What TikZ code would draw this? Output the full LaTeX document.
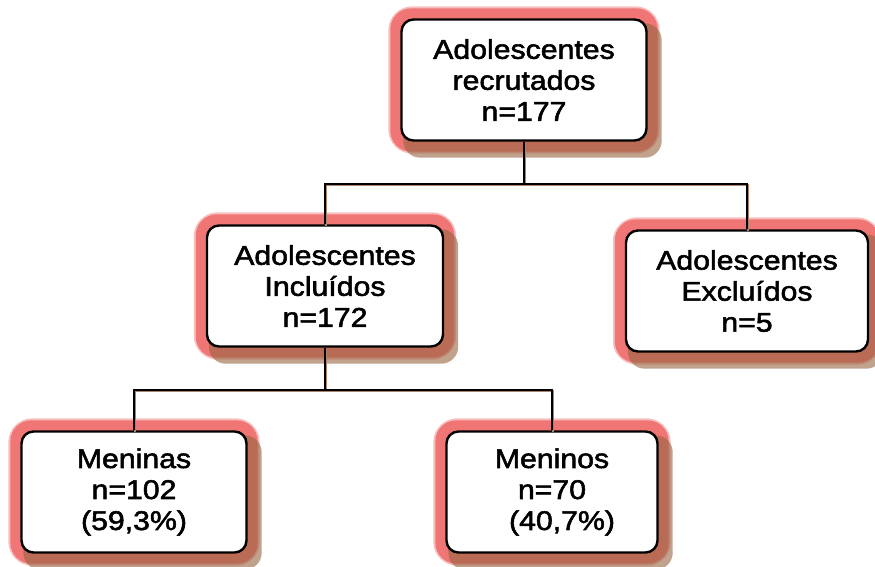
\documentclass[tikz,border=0pt]{standalone}
\usepackage{fontspec}
\setmainfont{Liberation Sans}[FakeStretch=1.12, FakeBold=2]
\usetikzlibrary{backgrounds}
\colorlet{box edge}{black}
\definecolor{box glow}{RGB}{240,118,118}
\definecolor{box halo}{RGB}{248,190,190}
\definecolor{box shadow}{RGB}{150,100,65}
\tikzset{count/.style={draw=box edge, line width=2.4pt, fill=white, rounded corners=12pt,
    align=center, inner sep=0pt, minimum height=121pt, font=\fontsize{27}{31}\selectfont},
    link/.style={draw=black, line width=2pt,
    preaction={draw=box shadow!80, line width=2pt, transform canvas={shift={(1pt,-1.5pt)}}}}}

\begin{document}
\begin{tikzpicture}[x=1pt,y=1pt]
     \useasboundingbox (0,0) rectangle (875,-567);
     \node[count, minimum width=245pt] (rec) at (524,-80) {Adolescentes\\recrutados\\n=177};
     \node[count, minimum width=236pt] (inc) at (325,-286) {Adolescentes\\Incluídos\\n=172};
     \node[count, minimum width=242pt] (exc) at (747,-291) {Adolescentes\\Excluídos\\n=5};
     \node[count, minimum width=225pt] (girls) at (134,-492) {Meninas\\n=102\\(59,3\%)};
     \node[count, minimum width=211pt] (boys) at (552,-492) {Meninos\\n=70\\\hspace*{20pt}(40,7\%)};

     \draw[link] (rec.south) -- ++(0,-42) coordinate (fork1);
     \draw[link] (inc.north) |- (fork1) -| (exc.north);
     \draw[link] (inc.south) -- ++(0,-42) coordinate (fork2);
     \draw[link] (girls.north) |- (fork2) -| (boys.north);

     \begin{scope}[on background layer]
         \foreach \n in {rec,inc,exc,girls,boys} {
             \fill[box halo, rounded corners=24pt] ([shift={(-12pt,12pt)}]\n.north west)
                 rectangle ([shift={(12pt,-12pt)}]\n.south east);
             \fill[box glow, rounded corners=21pt] ([shift={(-10pt,10pt)}]\n.north west)
                 rectangle ([shift={(10pt,-10pt)}]\n.south east);
             \fill[box shadow, opacity=.6, rounded corners=17pt] ([shift={(3pt,-5pt)}]\n.north west)
                 rectangle ([shift={(14pt,-16pt)}]\n.south east);
         }
     \end{scope}
 \end{tikzpicture}
\end{document}
